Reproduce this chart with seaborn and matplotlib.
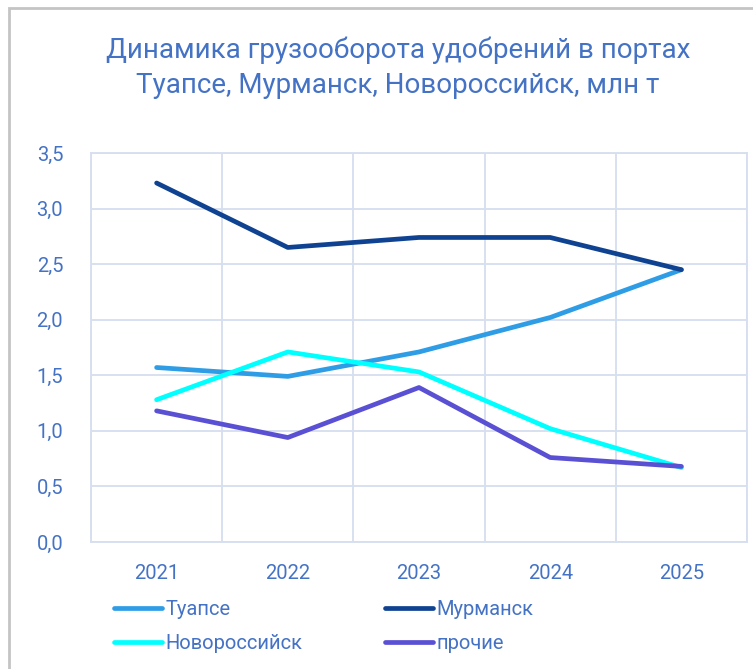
import pandas as pd
import numpy as np
import matplotlib.pyplot as plt
import seaborn as sns
from matplotlib.ticker import FixedLocator, FuncFormatter
from matplotlib.patches import Rectangle

# данные
years = ['2021', '2022', '2023', '2024', '2025']
tuapse = [1.57, 1.49, 1.71, 2.02, 2.45]
murmansk = [3.23, 2.65, 2.74, 2.74, 2.45]
novoross = [1.28, 1.71, 1.53, 1.02, 0.67]
prochie = [1.18, 0.94, 1.39, 0.76, 0.68]
series = ['Туапсе', 'Мурманск', 'Новороссийск', 'прочие']
colors = ['#2E9DE6', '#0F4391', '#00FFFF', '#5A50D3']

text_col = '#4472C4'
grid_col = '#D6DEF0'

df = pd.DataFrame({'Год': years * 4,
                   'Порт': np.repeat(series, len(years)),
                   'Значение': tuapse + murmansk + novoross + prochie})

sns.set_style('white')
plt.rcParams['font.family'] = ['Roboto', 'DejaVu Sans']

fig = plt.figure(figsize=(7.53, 6.69), dpi=100)
ax = fig.add_axes([91/753, 1 - 542/669, 656/753, 389/669])

sns.lineplot(data=df, x='Год', y='Значение', hue='Порт', hue_order=series,
             palette=colors, linewidth=3.4, sort=False, ax=ax, legend=True)
for ln in ax.get_lines():
    ln.set_solid_capstyle('round')
    ln.set_solid_joinstyle('round')

ax.set_xlim(-0.5, 4.5)
ax.set_ylim(0, 3.5)
ax.set_yticks(np.arange(0, 3.51, 0.5))
ax.yaxis.set_major_formatter(FuncFormatter(lambda v, p: f'{v:.1f}'.replace('.', ',')))
ax.xaxis.set_minor_locator(FixedLocator(np.arange(-0.5, 4.6, 1)))
ax.grid(True, which='major', axis='y', color=grid_col, linewidth=1.3)
ax.grid(True, which='minor', axis='x', color=grid_col, linewidth=1.3)
ax.set_axisbelow(True)
for s in ax.spines.values():
    s.set_color(grid_col)
    s.set_linewidth(1.3)
ax.tick_params(axis='both', which='both', length=0, labelsize=14.5, colors=text_col)
ax.tick_params(axis='y', pad=20)
ax.tick_params(axis='x', pad=16)
ax.set_xlabel('')
ax.set_ylabel('')

handles, labels = ax.get_legend_handles_labels()
ax.get_legend().remove()
order = [0, 2, 1, 3]
fig.legend([handles[i] for i in order], [labels[i] for i in order],
           loc='upper left', bbox_to_anchor=(114/753, 1 - 600/669), ncol=2,
           frameon=False, fontsize=14.5, labelcolor=text_col,
           handlelength=2.4, handletextpad=0.15, columnspacing=4.1,
           labelspacing=0.75, borderaxespad=0, borderpad=0)

fig.text(398/753, 1 - 68/669, 'Динамика грузооборота удобрений в портах\nТуапсе, Мурманск, Новороссийск, млн т',
         ha='center', va='center', fontsize=20, color=text_col, linespacing=1.38)

fig.patches.append(Rectangle((9/753, -0.1), 1.2, 1 - 8/669 + 0.1, transform=fig.transFigure,
                             fill=False, edgecolor='#C4C4C4', linewidth=2))

fig.savefig('out.png', dpi=100)
